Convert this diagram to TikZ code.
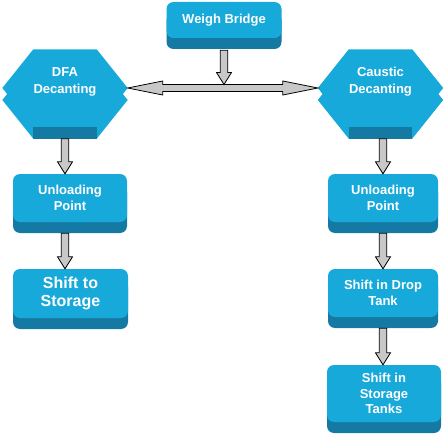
\documentclass[tikz,border=0pt]{standalone}
\usepackage{fontspec}
\setmainfont{Liberation Sans}
\usetikzlibrary{shadows,calc,backgrounds}
\definecolor{cyanL}{HTML}{17A9DA}
\definecolor{cyanD}{HTML}{1479A3}
\definecolor{arrg}{HTML}{C8C8C8}
\tikzset{
  boxnode/.style={rectangle, rounded corners=7pt, fill=cyanL, text=white,
    font=\bfseries\fontsize{13}{15.5}\selectfont, align=center, inner sep=0pt,
    general shadow={fill=cyanD, shadow xshift=0pt, shadow yshift=-11pt}},
  hexnode/.style={rectangle, minimum width=125pt, minimum height=77pt, inner sep=0pt},
  hextext/.style={text=white, font=\bfseries\fontsize{13}{17}\selectfont, align=center, inner sep=0pt},
  blk/.style={fill=arrg, draw=black, line width=0.8pt, line join=miter},
}
\newcommand\varr[3]{%
  \draw[blk] let \p1=(#2), \p2=(#3), \p3=(#1) in
    (\x3-3.75pt,\y1) -- (\x3-3.75pt,\y2+12pt) -- (\x3-7.5pt,\y2+12pt) -- (\x3,\y2)
    -- (\x3+7.5pt,\y2+12pt) -- (\x3+3.75pt,\y2+12pt) -- (\x3+3.75pt,\y1) -- cycle;}
\newcommand\hexshape[1]{%
  \fill[cyanL] (#1.west) -- ([xshift=31pt]#1.north west) -- ([xshift=-31pt]#1.north east)
    -- (#1.east) -- ([xshift=-31pt]#1.south east) -- ([xshift=31pt]#1.south west) -- cycle;
  \fill[cyanL] ([yshift=-12pt]#1.west) -- ([xshift=31pt,yshift=-12pt]#1.north west)
    -- ([xshift=-31pt,yshift=-12pt]#1.north east) -- ([yshift=-12pt]#1.east)
    -- ([xshift=-31pt,yshift=-12pt]#1.south east) -- ([xshift=31pt,yshift=-12pt]#1.south west) -- cycle;
  \fill[cyanD] ([xshift=31pt]#1.south west) rectangle ([xshift=-31pt,yshift=-12pt]#1.south east);}
\begin{document}
\begin{tikzpicture}[x=1pt,y=-1pt]
\useasboundingbox (0,0) rectangle (445,436);
% hexagons
\node[hexnode] (dfa) at (65,88) {};
\node[hexnode] (cau) at (380.5,88) {};
\begin{scope}[on background layer]
  \hexshape{dfa}
  \hexshape{cau}
\end{scope}
\node[hextext] (dfat) at ([yshift=6pt]dfa.center) {DFA\\Decanting};
\node[hextext] (caut) at ([yshift=6pt]cau.center) {Caustic\\Decanting};
% boxes
\node[boxnode, minimum width=115pt, minimum height=36pt] (wb) at (224,20) {Weigh Bridge};
\node[boxnode, minimum width=114pt, minimum height=48pt] (up1) at (70,198) {Unloading\\Point};
\node[boxnode, minimum width=115pt, minimum height=49pt, font=\bfseries\fontsize{16}{18}\selectfont] (sts) at (70.5,293.5) {Shift to\\Storage};
\node[boxnode, minimum width=110pt, minimum height=48pt] (up2) at (383,198) {Unloading\\Point};
\node[boxnode, minimum width=110pt, minimum height=48pt] (sdt) at (383,293) {Shift in Drop\\Tank};
\node[boxnode, minimum width=114pt, minimum height=57pt] (sst) at (384,393.5) {Shift in\\Storage\\Tanks};
% horizontal double arrow
\draw[blk] let \p1=(dfa.east), \p2=(cau.west) in
  (\x1,\y1) -- (\x1+35pt,\y1+7pt) -- (\x1+35pt,\y1+3.5pt) -- (\x2-35pt,\y1+3.5pt)
  -- (\x2-35pt,\y1+7pt) -- (\x2,\y1) -- (\x2-35pt,\y1-7pt) -- (\x2-35pt,\y1-3.5pt)
  -- (\x1+35pt,\y1-3.5pt) -- (\x1+35pt,\y1-7pt) -- cycle;
\coordinate (j) at (wb.south |- dfa.east);
\varr{wb.south}{[yshift=-12pt]wb.south}{[yshift=3.5pt]j}
\varr{dfa.south}{[yshift=-12pt]dfa.south}{up1.north}
\varr{dfa.south}{[yshift=-11pt]up1.south}{sts.north}
\varr{up2.south}{[yshift=-12pt]cau.south}{up2.north}
\varr{up2.south}{[yshift=-11pt]up2.south}{sdt.north}
\varr{up2.south}{[yshift=-11pt]sdt.south}{sst.north}
\end{tikzpicture}
\end{document}
